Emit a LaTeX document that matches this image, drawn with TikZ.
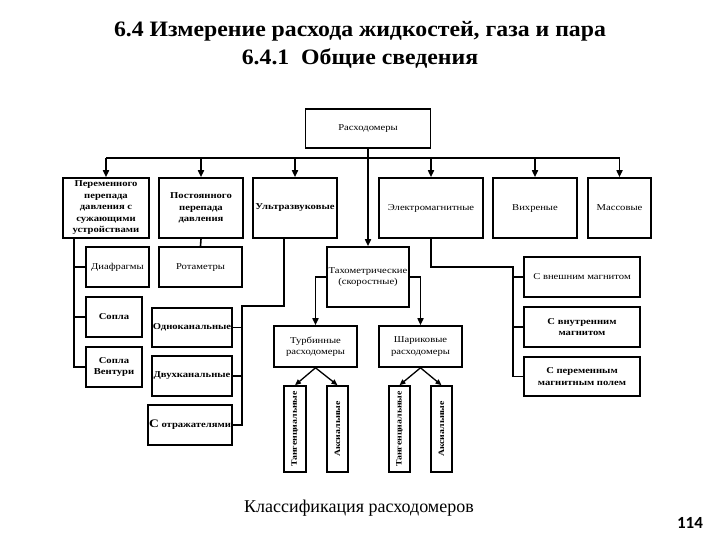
\documentclass[tikz,border=0pt]{standalone}
\usepackage{fontspec}
\usepackage{graphicx}
\setmainfont{Liberation Serif}
\newfontfamily\bxf[FakeStretch=1.18]{Liberation Serif}
\newfontfamily\ttlf[FakeStretch=1.08]{Liberation Serif}
\newfontfamily\numf{Carlito}
\usetikzlibrary{arrows.meta}
\begin{document}
\begin{tikzpicture}[x=1pt,y=-1pt,
  box/.style={draw, line width=1.6pt, inner sep=1pt, align=center, font=\bxf\fontsize{9}{11.5}\selectfont},
  bbox/.style={box, font=\bxf\bfseries\fontsize{9}{11.5}\selectfont},
  vbox/.style={box, font=\bxf\bfseries\fontsize{8.3}{10}\selectfont},
  wh/.style 2 args={minimum width=#1pt, minimum height=#2pt},
  ln/.style={line width=1.6pt},
  arr/.style={ln, -{Triangle[length=7pt,width=6pt]}},
  sarr/.style={line width=1.3pt, -{Triangle[length=6pt,width=5pt]}},
  ttl/.style={font=\ttlf\bfseries\fontsize{22}{26}\selectfont},
]
\useasboundingbox (0,0) rectangle (720,540);
\fill[white] (0,0) rectangle (720,540);

% titles
\node[ttl] (title1) at (360,31) {6.4 Измерение расхода жидкостей, газа и пара};
\node[ttl] (title2) at (360,59) {6.4.1\ \ Общие сведения};

% root
\node[box, wh={125}{39}] (root) at (368,128.5) {Расходомеры};

% level 1
\node[bbox, wh={86}{60}] (b1) at (106,208) {Переменного\\перепада\\давления с\\сужающими\\устройствами};
\node[bbox, wh={84}{60}] (b2) at (201,208) {Постоянного\\перепада\\давления};
\node[bbox, wh={84}{60}] (b3) at (295,208) {Ультразвуковые};
\node[box, wh={104}{60}] (b4) at (431,208) {Электромагнитные};
\node[box, wh={84}{60}] (b5) at (535,208) {\strut Вихреные};
\node[box, wh={63}{60}] (b6) at (619.5,208) {Массовые};

% left column
\node[box, wh={63}{40}] (diaf) at (117.5,267) {Диафрагмы};
\node[bbox, wh={56}{40}] (sop) at (114,317) {\strut Сопла};
\node[bbox, wh={56}{40}] (sopv) at (114,367) {Сопла\\Вентури};
\node[box, wh={83}{40}] (rot) at (200.5,267) {\strut Ротаметры};

% ultrasonic children
\node[bbox, wh={80}{39}] (odno) at (192,327.5) {Одноканальные};
\node[bbox, wh={80}{40}] (dvuh) at (192,376) {Двухканальные};
\node[bbox, wh={84}{40}] (sotr) at (190,425) {{\fontsize{11.5}{12}\selectfont С} отражателями};

% tachometric
\node[box, wh={82}{60}] (tah) at (368,277) {Тахометрические\\(скоростные)};
\node[box, wh={83}{41}] (turb) at (315.5,346.5) {Турбинные\\расходомеры};
\node[box, wh={83}{41}] (shar) at (420.5,346.5) {Шариковые\\расходомеры};
\node[vbox, wh={22}{86}] (tg1) at (295,429) {\rotatebox{90}{Тангенциальные}};
\node[vbox, wh={21}{86}] (ax1) at (337.5,429) {\rotatebox{90}{Аксиальные}};
\node[vbox, wh={21}{86}] (tg2) at (399.5,429) {\rotatebox{90}{Тангенциальные}};
\node[vbox, wh={21}{86}] (ax2) at (441.5,429) {\rotatebox{90}{Аксиальные}};

% electromagnetic children
\node[box, wh={116}{40}] (svn) at (582,277) {С внешним магнитом};
\node[bbox, wh={116}{40}] (svnut) at (582,327) {С внутренним\\магнитом};
\node[bbox, wh={116}{39}] (sper) at (582,376.5) {С переменным\\магнитным полем};

% caption and page number
\node[font=\fontsize{18}{21}\selectfont] (cap) at (359,508) {Классификация расходомеров};
\node[font=\numf\bfseries\fontsize{17}{20}\selectfont] (pn) at (690,523) {114};

% connectors: root and bus
\coordinate (bus) at (0,158);
\draw[ln] (bus -| b1) -- (bus -| b6);
\draw[ln] (root.south) -- (bus -| root);
\foreach \n in {b1,b2,b3,b4,b5,b6} \draw[arr] (bus -| \n) -- (\n.north);
\draw[arr] (root.south) -- (tah.north);

% left column
\coordinate (lc) at ([xshift=12pt]b1.south west);
\draw[ln] (lc) |- (sopv.west);
\draw[ln] (diaf.west) -- (diaf.west -| lc);
\draw[ln] (sop.west) -- (sop.west -| lc);
\draw[ln] (b2.south) -- (rot.north);

% ultrasonic
\coordinate (u1) at ([xshift=-11pt]b3.south);
\coordinate (u2) at (242,306);
\draw[ln] (u1) |- (u2) |- (sotr.east);
\draw[ln] (odno.east) -- (odno.east -| u2);
\draw[ln] (dvuh.east) -- (dvuh.east -| u2);

% electromagnetic
\coordinate (e1) at (513,267);
\draw[ln] (b4.south) |- (e1) |- (sper.west);
\draw[ln] (svn.west) -- (svn.west -| e1);
\draw[ln] (svnut.west) -- (svnut.west -| e1);

% tachometric
\draw[arr] (tah.west) -| (turb.north);
\draw[arr] (tah.east) -| (shar.north);
\draw[sarr] (turb.south) -- (tg1.north);
\draw[sarr] (turb.south) -- (ax1.north);
\draw[sarr] (shar.south) -- (tg2.north);
\draw[sarr] (shar.south) -- (ax2.north);
\end{tikzpicture}
\end{document}
